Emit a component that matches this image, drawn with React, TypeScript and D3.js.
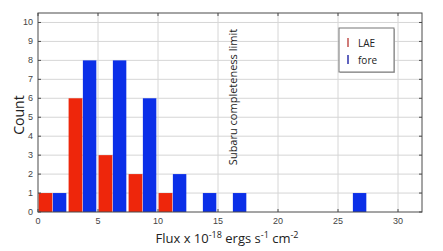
import { useEffect, useRef } from 'react';
import * as d3 from 'd3';

// bin lower edges (flux x 1e-18), 2.5 wide
const binEdges = [0, 2.5, 5, 7.5, 10, 12.5, 15, 17.5, 20, 22.5, 25, 27.5, 30];
const laeCounts = [1, 6, 3, 2, 1, 0, 0, 0, 0, 0, 0, 0, 0];
const foreCounts = [1, 8, 8, 6, 2, 1, 1, 0, 0, 0, 1, 0, 0];
const xTicks = [0, 5, 10, 15, 20, 25, 30];
const yTicks = [0, 1, 2, 3, 4, 5, 6, 7, 8, 9, 10];
const legendItems = [
    { label: 'LAE', color: '#c0504d' },
    { label: 'fore', color: '#2b2fa8' },
];

const RED = '#ee260b';
const BLUE = '#0b2fe8';

export default function App() {
    const svgRef = useRef<SVGSVGElement>(null);

    useEffect(() => {
        if (!svgRef.current) return;
        const width = 443;
        const height = 251;
        const m = { left: 38, right: 21, top: 13, bottom: 39 };

        const svg = d3.select(svgRef.current);
        svg.selectAll('*').remove();
        svg.attr('width', width).attr('height', height);

        const x = d3.scaleLinear().domain([0, 32]).range([m.left, width - m.right]);
        const y = d3.scaleLinear().domain([0, 10.5]).range([height - m.bottom, m.top]);
        const [x0, x1] = x.range();
        const [y0, y1] = y.range();

        // grid
        svg.append('g')
            .selectAll('line')
            .data(xTicks.slice(1))
            .enter()
            .append('line')
            .attr('x1', d => x(d)).attr('x2', d => x(d))
            .attr('y1', y0).attr('y2', y1)
            .attr('stroke', '#d6d6d6');
        svg.append('g')
            .selectAll('line')
            .data(yTicks.slice(1))
            .enter()
            .append('line')
            .attr('x1', x0).attr('x2', x1)
            .attr('y1', d => y(d)).attr('y2', d => y(d))
            .attr('stroke', '#d6d6d6');

        // bars
        const bars = svg.append('g');
        bars.selectAll('.lae')
            .data(binEdges.map((e, i) => ({ e, v: laeCounts[i] })).filter(d => d.v > 0))
            .enter()
            .append('rect')
            .attr('x', d => x(d.e + 0.05))
            .attr('width', x(1.15) - x(0))
            .attr('y', d => y(d.v))
            .attr('height', d => y(0) - y(d.v))
            .attr('fill', RED);
        bars.selectAll('.fore')
            .data(binEdges.map((e, i) => ({ e, v: foreCounts[i] })).filter(d => d.v > 0))
            .enter()
            .append('rect')
            .attr('x', d => x(d.e + 1.24))
            .attr('width', x(1.12) - x(0))
            .attr('y', d => y(d.v))
            .attr('height', d => y(0) - y(d.v))
            .attr('fill', BLUE);

        // frame + ticks
        svg.append('rect')
            .attr('x', x0).attr('y', y1)
            .attr('width', x1 - x0).attr('height', y0 - y1)
            .attr('fill', 'none').attr('stroke', '#4a4a4a');
        const tk = svg.append('g').attr('stroke', '#4a4a4a');
        xTicks.forEach(t => {
            tk.append('line').attr('x1', x(t)).attr('x2', x(t)).attr('y1', y0).attr('y2', y0 - 3);
            tk.append('line').attr('x1', x(t)).attr('x2', x(t)).attr('y1', y1).attr('y2', y1 + 3);
        });
        yTicks.forEach(t => {
            tk.append('line').attr('x1', x0).attr('x2', x0 + 3).attr('y1', y(t)).attr('y2', y(t));
            tk.append('line').attr('x1', x1).attr('x2', x1 - 3).attr('y1', y(t)).attr('y2', y(t));
        });

        // tick labels
        svg.append('g')
            .selectAll('text')
            .data(xTicks)
            .enter()
            .append('text')
            .attr('x', d => x(d))
            .attr('y', y0 + 12)
            .attr('text-anchor', 'middle')
            .attr('font-family', 'Liberation Sans, Arial, sans-serif')
            .attr('font-size', 9)
            .attr('fill', '#444')
            .text(d => d);
        svg.append('g')
            .selectAll('text')
            .data(yTicks)
            .enter()
            .append('text')
            .attr('x', x0 - 5)
            .attr('y', d => y(d) + 3)
            .attr('text-anchor', 'end')
            .attr('font-family', 'Liberation Sans, Arial, sans-serif')
            .attr('font-size', 9)
            .attr('fill', '#444')
            .text(d => d);

        // axis labels
        const xl = svg.append('text')
            .attr('x', 227)
            .attr('y', 243)
            .attr('text-anchor', 'middle')
            .attr('font-family', 'Open Sans, sans-serif')
            .attr('font-size', 13)
            .attr('fill', '#222');
        xl.append('tspan').text('Flux x 10');
        xl.append('tspan').attr('dy', -5).attr('font-size', 9).text('-18');
        xl.append('tspan').attr('dy', 5).text(' ergs s');
        xl.append('tspan').attr('dy', -5).attr('font-size', 9).text('-1');
        xl.append('tspan').attr('dy', 5).text(' cm');
        xl.append('tspan').attr('dy', -5).attr('font-size', 9).text('-2');

        svg.append('text')
            .attr('transform', 'translate(24,115) rotate(-90)')
            .attr('text-anchor', 'middle')
            .attr('font-family', 'Open Sans, sans-serif')
            .attr('font-size', 14)
            .attr('fill', '#222')
            .text('Count');

        svg.append('text')
            .attr('transform', 'translate(237,97) rotate(-90)')
            .attr('text-anchor', 'middle')
            .attr('font-family', 'Open Sans, sans-serif')
            .attr('font-size', 11)
            .attr('fill', '#222')
            .text('Subaru completeness limit');

        // legend
        const lg = svg.append('g').attr('transform', 'translate(339,28)');
        lg.append('rect').attr('x', 1).attr('y', 1).attr('width', 55).attr('height', 44).attr('fill', '#bbb');
        lg.append('rect').attr('width', 55).attr('height', 44).attr('fill', '#fff').attr('stroke', '#777');
        legendItems.forEach((d, i) => {
            const g = lg.append('g').attr('transform', `translate(0,${10 + i * 17})`);
            g.append('line').attr('x1', 9).attr('x2', 9).attr('y1', 0).attr('y2', 9)
                .attr('stroke', d.color).attr('stroke-width', 1.5);
            g.append('text').attr('x', 19).attr('y', 9)
                .attr('font-family', 'Open Sans, sans-serif')
                .attr('font-size', 10)
                .attr('fill', '#222')
                .text(d.label);
        });
    }, []);

    return (
        <div style={{ position: 'fixed', left: 0, top: 0, background: '#fff' }}>
            <svg ref={svgRef} style={{ display: 'block' }} />
        </div>
    );
}
